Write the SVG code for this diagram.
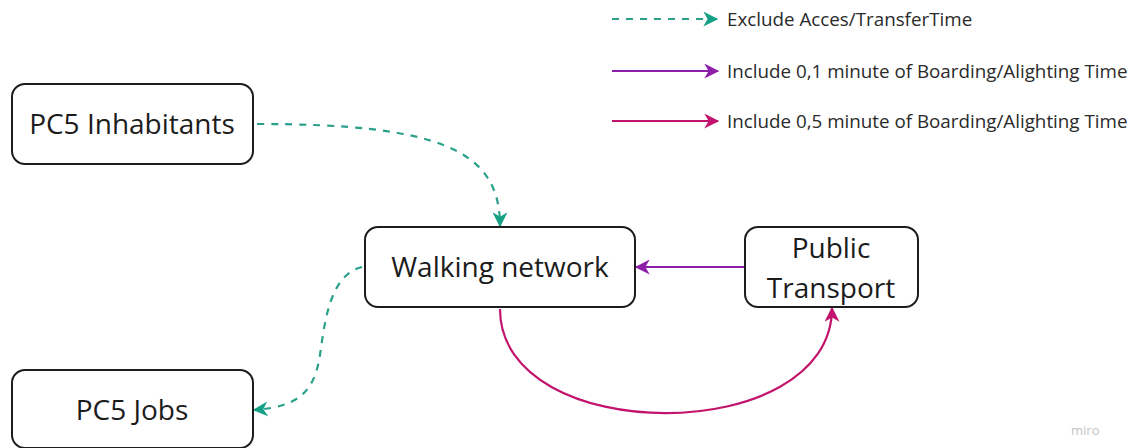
<svg xmlns="http://www.w3.org/2000/svg" width="1135" height="448" viewBox="0 0 1135 448">
  <style>
    .box { fill: #ffffff; stroke: #1c1c1c; stroke-width: 2; }
    .label { font-family: "Open Sans", "Noto Sans", sans-serif; font-size: 28px; fill: #1c1c1c; text-anchor: middle; dominant-baseline: central; }
    .legend { font-family: "Open Sans", "Noto Sans", sans-serif; font-size: 18.8px; fill: #2a2a2a; dominant-baseline: central; }
    .teal { fill: none; stroke: #2aa08b; stroke-width: 2.2; stroke-dasharray: 7 7; }
    .purple { fill: none; stroke: #8e1fa8; stroke-width: 2.2; }
    .magenta { fill: none; stroke: #c2146c; stroke-width: 2.2; }
    .wm { font-family: "Open Sans", "Noto Sans", sans-serif; font-size: 13px; fill: #c4c4c4; }
  </style>
  <defs>
    <marker id="headTeal" viewBox="0 0 12 12" refX="11" refY="6" markerWidth="15" markerHeight="15" markerUnits="userSpaceOnUse" orient="auto">
      <path d="M0,0 L12,6 L0,12 L3.5,6 z" fill="#14a085"/>
    </marker>
    <marker id="headPurple" viewBox="0 0 12 12" refX="11" refY="6" markerWidth="15" markerHeight="15" markerUnits="userSpaceOnUse" orient="auto">
      <path d="M0,0 L12,6 L0,12 L3.5,6 z" fill="#8e1fa8"/>
    </marker>
    <marker id="headMagenta" viewBox="0 0 12 12" refX="11" refY="6" markerWidth="15" markerHeight="15" markerUnits="userSpaceOnUse" orient="auto">
      <path d="M0,0 L12,6 L0,12 L3.5,6 z" fill="#c2146c"/>
    </marker>
  </defs>
  <rect width="1135" height="448" fill="#ffffff"/>

  <!-- legend -->
  <g id="legend">
    <line class="teal" x1="612" y1="19" x2="717" y2="19" marker-end="url(#headTeal)"/>
    <text class="legend" x="727" y="19">Exclude Acces/TransferTime</text>
    <line class="purple" x1="612" y1="71" x2="718" y2="71" marker-end="url(#headPurple)"/>
    <text class="legend" x="727" y="71">Include 0,1 minute of Boarding/Alighting Time</text>
    <line class="magenta" x1="612" y1="121" x2="718" y2="121" marker-end="url(#headMagenta)"/>
    <text class="legend" x="727" y="121">Include 0,5 minute of Boarding/Alighting Time</text>
  </g>

  <!-- connectors -->
  <g id="connectors">
    <path class="teal" d="M257,124 C440,124 500,150 500,226" marker-end="url(#headTeal)"/>
    <path class="teal" d="M362,267 C330,275 325,320 320,355 C314,395 295,407 254,410" marker-end="url(#headTeal)"/>
    <path class="purple" d="M745,267 L636,267" marker-end="url(#headPurple)"/>
    <path class="magenta" d="M500,309 C500,448 832,448 832,308" marker-end="url(#headMagenta)"/>
  </g>

  <!-- nodes -->
  <g id="pc5-inhabitants">
    <rect class="box" x="12" y="84" width="241" height="80" rx="13"/>
    <text class="label" x="132" y="123">PC5 Inhabitants</text>
  </g>
  <g id="walking-network">
    <rect class="box" x="365" y="227" width="270" height="80" rx="13"/>
    <text class="label" x="500" y="266">Walking network</text>
  </g>
  <g id="public-transport">
    <rect class="box" x="745" y="227" width="173" height="80" rx="13"/>
    <text class="label" x="831" y="247">Public</text>
    <text class="label" x="831" y="287">Transport</text>
  </g>
  <g id="pc5-jobs">
    <rect class="box" x="12" y="370" width="241" height="78" rx="13"/>
    <text class="label" x="132" y="409">PC5 Jobs</text>
  </g>

  <text class="wm" x="1071" y="435">miro</text>
</svg>
